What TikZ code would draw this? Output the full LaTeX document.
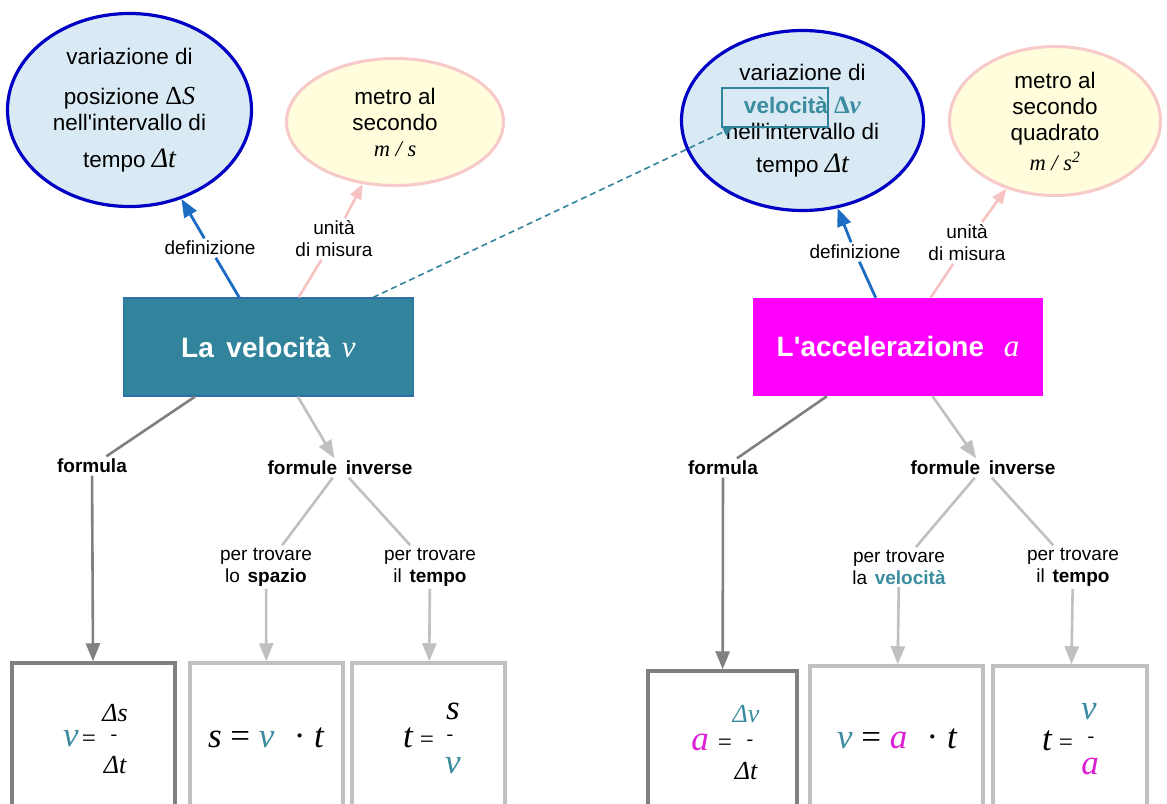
\documentclass[tikz,border=0pt]{standalone}
\usepackage{fontspec}
\setmainfont{Liberation Sans}
\newfontfamily\tms{Liberation Serif}
\usetikzlibrary{shapes.geometric,arrows.meta}

\definecolor{velteal}{HTML}{31849B}
\definecolor{veltext}{HTML}{3B8C9F}
\definecolor{velframe}{HTML}{2F6FA8}
\definecolor{accmag}{HTML}{FF00FF}
\definecolor{accmagtext}{HTML}{DB1FD6}
\definecolor{defellfill}{HTML}{DAEAF4}
\definecolor{defellline}{HTML}{0000C4}
\definecolor{unitellfill}{HTML}{FFFDDC}
\definecolor{unitellline}{HTML}{F8C9C9}
\definecolor{defline}{HTML}{1C6CC4}
\definecolor{unitline}{HTML}{F7C2C2}
\definecolor{darkgrey}{HTML}{808080}
\definecolor{lightgrey}{HTML}{C0C0C0}

\newcommand{\ellfont}{\fontsize{22.5}{26}\selectfont}
\newcommand{\lblfont}{\fontsize{19}{22}\selectfont}
\newcommand{\bigvar}{\tms\itshape\fontsize{35}{35}\selectfont}
\newcommand{\fracvar}{\tms\itshape\fontsize{26}{26}\selectfont}
\newcommand{\smallop}{\tms\fontsize{25}{25}\selectfont}
\newcommand{\apos}{\textquotesingle}

\tikzset{
  defell/.style={ellipse, draw=defellline, line width=3.2pt, fill=defellfill,
    inner sep=0pt, align=center, font=\ellfont},
  unitell/.style={ellipse, draw=unitellline, line width=3pt, fill=unitellfill,
    inner sep=0pt, align=center, font=\ellfont},
  concept/.style={rectangle, minimum width=290pt, minimum height=98pt,
    text=white, font=\bfseries\fontsize{28}{32}\selectfont},
  linkph/.style={fill=white, align=center, inner sep=2.5pt, font=\lblfont},
  boldlink/.style={linkph, font=\bfseries\lblfont},
  mainformula/.style={rectangle, draw=darkgrey, line width=3.5pt, minimum height=180pt},
  invformula/.style={rectangle, draw=lightgrey, line width=3.5pt, minimum height=180pt},
  deflink/.style={draw=defline, line width=2.8pt},
  unitlink/.style={draw=unitline, line width=2.6pt},
  darklink/.style={draw=darkgrey, line width=2.6pt},
  lightlink/.style={draw=lightgrey, line width=2.6pt},
  tip/.style={-{Triangle[length=18pt,width=14pt]}},
  smalltip/.style={-{Triangle[length=15pt,width=12pt]}},
  glyph/.style={inner sep=0pt, anchor=base},
  fracbar/.style={inner sep=0pt, anchor=base, font=\tms\fontsize{20}{20}\selectfont},
}

\begin{document}
\begin{tikzpicture}[x=1pt, y=-1pt]
\useasboundingbox (0,0) rectangle (1167,803);
\begin{scope}
\clip (0,0) rectangle (1167,803);
\fill[white] (0,0) rectangle (1167,803);

% ---------- velocity side ----------
\node[concept, fill=velteal, draw=velframe, line width=1.2pt] (vel) at (268.5,347)
  {La\hspace{0.45em}velocità\hspace{0.4em}{\tms\mdseries\itshape\fontsize{31}{31}\selectfont v}};

\node[defell, minimum width=244pt, minimum height=193pt] (posell) at (129.5,110)
  {variazione di\\[14pt]
   posizione {\tms\fontsize{26}{26}\selectfont Δ\textit{S}}\\
   nell\apos intervallo di\\[11pt]
   tempo {\tms\itshape\fontsize{28}{28}\selectfont Δt}};

\node[unitell, minimum width=217pt, minimum height=127pt] (msell) at (395,122)
  {metro al\\ secondo\\ {\tms\itshape m / s}};

\node[linkph] (def1) at (210,248) {definizione};
\node[linkph] (um1) at (334,239) {unità\\di misura};
\node[boldlink] (form1) at (92,466) {formula};
\node[boldlink] (inv1) at (340,468) {formule\hspace{0.45em}inverse};
\node[linkph] (pt1) at (266,567) {per trovare\\lo\hspace{0.4em}\textbf{spazio}};
\node[linkph] (pt2) at (430,567) {per trovare\\il\hspace{0.4em}\textbf{tempo}};

\node[mainformula, minimum width=163pt] (fA) at (93.5,753) {};
\node[invformula, minimum width=153pt] (fB) at (266.5,753) {};
\node[invformula, minimum width=153pt] (fC) at (428.5,753) {};

% v = Δs / Δt
\node[glyph, text=veltext, font=\bigvar] (fAv) at (71,746) {v};
\node[glyph, font=\smallop] (fAeq) at (89,746) {=};
\node[fracbar] (fAbar) at (114,740) {-};
\node[glyph, font=\fracvar] (fAnum) at (115,721) {Δs};
\node[glyph, font=\fracvar] (fAden) at (115,773) {Δt};

% s = v · t
\node[glyph, font=\bigvar] (fBexpr) at (266,747)
  {s {\upshape =} \textcolor{veltext}{v}\hspace{0.3em} {\upshape ·} t};

% t = s / v
\node[glyph, font=\bigvar] (fCt) at (408,747) {t};
\node[glyph, font=\smallop] (fCeq) at (427,747) {=};
\node[fracbar] (fCbar) at (450,740) {-};
\node[glyph, font=\bigvar] (fCnum) at (453,719) {s};
\node[glyph, font=\bigvar, text=veltext] (fCden) at (453,773) {v};

% ---------- acceleration side ----------
\node[concept, fill=accmag] (acc) at (898,347)
  {L\apos accelerazione\hspace{0.7em}{\tms\mdseries\itshape\fontsize{31}{31}\selectfont a}};

\node[defell, minimum width=242pt, minimum height=180pt] (velell) at (802.5,120.5)
  {variazione di\\[7pt]
   {\bfseries\color{veltext}velocità {\tms\fontsize{25}{25}\selectfont Δ\textit{v}}}\\
   nell\apos intervallo di\\[7pt]
   tempo {\tms\itshape\fontsize{28}{28}\selectfont Δt}};

\node[rectangle, draw=velteal, line width=1.5pt, inner sep=0pt,
  minimum width=106pt, minimum height=39pt] (velrect) at (775,107.5) {};

\node[unitell, minimum width=211pt, minimum height=149pt] (mssell) at (1055,121)
  {metro al\\ secondo\\ quadrato\\[4pt] {\tms\itshape m / s\textsuperscript{2}}};

\node[linkph] (def2) at (855,252) {definizione};
\node[linkph] (um2) at (967,243) {unità\\di misura};
\node[boldlink] (form2) at (723,468) {formula};
\node[boldlink] (inv2) at (983,468) {formule\hspace{0.45em}inverse};
\node[linkph] (pt3) at (899,567) {per trovare\\la\hspace{0.4em}\textbf{\color{veltext}velocità}};
\node[linkph] (pt4) at (1073,567) {per trovare\\il\hspace{0.4em}\textbf{tempo}};

\node[mainformula, minimum width=149pt] (fD) at (722.5,761) {};
\node[invformula, minimum width=173pt] (fE) at (896.5,756) {};
\node[invformula, minimum width=154pt] (fF) at (1070,756) {};

% a = Δv / Δt
\node[glyph, font=\bigvar, text=accmagtext] (fDa) at (700,750) {a};
\node[glyph, font=\smallop] (fDeq) at (725,750) {=};
\node[fracbar] (fDbar) at (750,745) {-};
\node[glyph, font=\fracvar, text=veltext] (fDnum) at (746,722) {Δv};
\node[glyph, font=\fracvar] (fDden) at (746,779) {Δt};

% v = a · t
\node[glyph, font=\bigvar] (fEexpr) at (897,748)
  {\textcolor{veltext}{v} {\upshape =} \textcolor{accmagtext}{a}\hspace{0.3em} {\upshape ·} t};

% t = v / a
\node[glyph, font=\bigvar] (fFt) at (1047,750) {t};
\node[glyph, font=\smallop] (fFeq) at (1066,750) {=};
\node[fracbar] (fFbar) at (1091,742) {-};
\node[glyph, font=\bigvar, text=veltext] (fFnum) at (1089,719) {v};
\node[glyph, font=\bigvar, text=accmagtext] (fFden) at (1090,774) {a};

% ---------- connectors ----------
\draw[deflink] (vel) -- (def1);
\draw[deflink, tip] (def1) -- (posell);
\draw[unitlink] (vel) -- (um1);
\draw[unitlink, smalltip] (um1) -- (msell);
\draw[darklink] (vel) -- (form1);
\draw[darklink, tip] (form1) -- (fA);
\draw[lightlink, tip] (vel) -- (inv1);
\draw[lightlink] (inv1) -- (pt1);
\draw[lightlink] (inv1) -- (pt2);
\draw[lightlink, tip] (pt1) -- (fB);
\draw[lightlink, tip] (pt2) -- (fC);

\draw[deflink] (acc) -- (def2);
\draw[deflink, tip] (def2) -- (velell);
\draw[unitlink] (acc) -- (um2);
\draw[unitlink, smalltip] (um2) -- (mssell);
\draw[darklink] (acc) -- (form2);
\draw[darklink, tip] (form2) -- (fD);
\draw[lightlink, tip] (acc) -- (inv2);
\draw[lightlink] (inv2) -- (pt3);
\draw[lightlink] (inv2) -- (pt4);
\draw[lightlink, tip] (pt3) -- (fE);
\draw[lightlink, tip] (pt4) -- (fF);

\draw[velteal, line width=1.6pt, dash pattern=on 6pt off 4pt,
  -{Triangle[length=9pt,width=9pt]}] (vel) -- (velrect);
\end{scope}
\end{tikzpicture}
\end{document}
